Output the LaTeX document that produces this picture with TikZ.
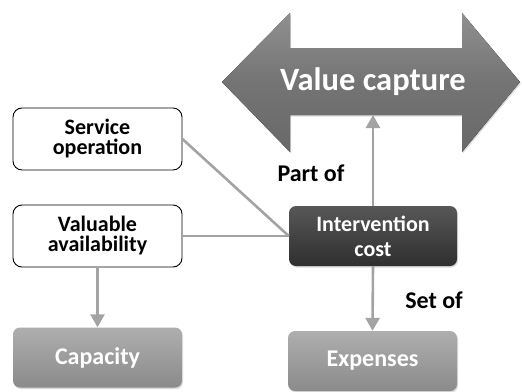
\documentclass[tikz,border=0pt]{standalone}
\usepackage{fontspec}
\setmainfont{Carlito}
\usetikzlibrary{shadows,arrows.meta}
\definecolor{linegray}{HTML}{A3A3A3}
\definecolor{boxgray}{HTML}{9A9A9A}
\definecolor{darkbox}{HTML}{3A3A3A}
\definecolor{arrowgray}{HTML}{747474}
\begin{document}
\begin{tikzpicture}[x=1pt,y=-1pt,
  whitebox/.style={draw=black, line width=0.9pt, fill=white, rounded corners=9pt,
    minimum width=169pt, minimum height=62pt, align=center, font=\bfseries\fontsize{22}{20}\selectfont, inner sep=0pt},
  graybox/.style={draw=none, rounded corners=7pt, top color=boxgray!80!white, bottom color=boxgray!90!black,
    minimum width=169pt, minimum height=60pt, align=center, text=white, font=\bfseries\fontsize{24}{26}\selectfont,
    drop shadow={opacity=0.3, shadow xshift=1pt, shadow yshift=-1.5pt}, inner sep=0pt},
  darkboxst/.style={draw=none, rounded corners=7pt, top color=darkbox!85!white, bottom color=darkbox!80!black,
    minimum width=168pt, minimum height=60pt, align=center, text=white, font=\bfseries\fontsize{22}{25}\selectfont,
    drop shadow={opacity=0.3, shadow xshift=1pt, shadow yshift=-1.5pt}, inner sep=0pt},
  conn/.style={draw=linegray, line width=2.6pt},
  arr/.style={conn, -{Triangle[length=13pt,width=14pt]}},
  lbl/.style={font=\bfseries\fontsize{24}{26}\selectfont, text=black}
]
\useasboundingbox (0,0) rectangle (522,391);
% double arrow
\fill[top color=arrowgray!80!white, bottom color=arrowgray!90!black, middle color=arrowgray,
  drop shadow={opacity=0.25, shadow xshift=1pt, shadow yshift=-1.5pt}]
  (222,82) -- (290,13) -- (290,48) -- (462,48) -- (462,13) -- (520,82) -- (462,152)
  -- (462,115) -- (290,115) -- (290,152) -- cycle;
\node[text=white, font=\bfseries\fontsize{32.5}{36}\selectfont] (vc) at (373,82) {Value capture};
\coordinate (vcb) at (373,115);

\node[whitebox] (so) at (97.5,139) {Service\\operation};
\node[whitebox] (va) at (97.5,236) {Valuable\\availability};
\node[darkboxst] (ic) at (373,236) {Intervention\\cost};
\node[graybox] (cap) at (97.5,357.5) {Capacity};
\node[graybox] (exp) at (372.5,361) {Expenses};

\draw[conn] (so.east) -- (ic.west);
\draw[conn] (va.east) -- (ic.west);
\draw[arr] (va.south) -- (cap.north);
\draw[arr] (ic.south) -- (exp.north);
\draw[arr] (ic.north) -- (vcb);

\node[lbl] (partof) at (311,173) {Part of};
\node[lbl] (setof) at (434,300) {Set of};
\end{tikzpicture}
\end{document}
